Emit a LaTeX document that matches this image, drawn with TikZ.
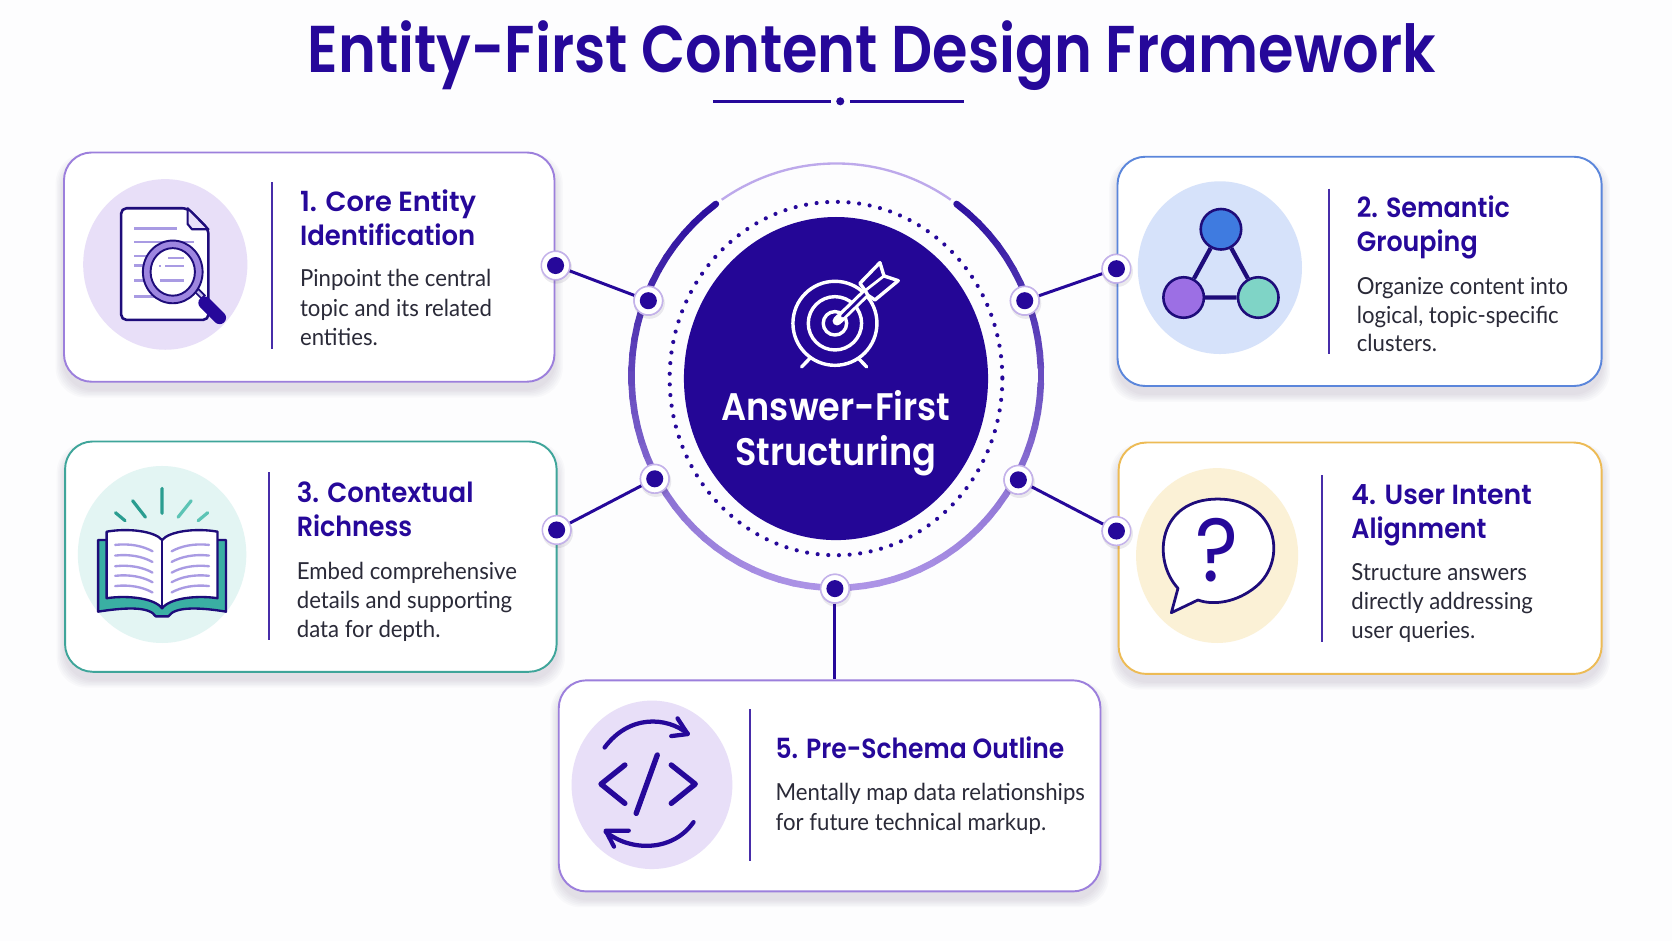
\documentclass[tikz,border=0pt]{standalone}
\usepackage{fontspec}
\setmainfont[FakeStretch=0.945]{Lato}
\newfontfamily\headfont[FakeStretch=0.915,BoldFont={Poppins SemiBold}]{Poppins}
\newfontfamily\titlefont[FakeStretch=0.868,BoldFont={Poppins SemiBold}]{Poppins}
\usetikzlibrary{calc,shapes.geometric}
\definecolor{ink}{HTML}{26089A}
\definecolor{circ}{HTML}{240696}
\definecolor{outl}{HTML}{1E0C7A}
\definecolor{body}{HTML}{2A2A38}
\definecolor{ringL}{HTML}{AD94E6}
\definecolor{ringD}{HTML}{2C0F9E}
\definecolor{cPur}{HTML}{9C7FDC}
\definecolor{cBlu}{HTML}{5B86DB}
\definecolor{cTea}{HTML}{3FA59A}
\definecolor{cAmb}{HTML}{EDBB55}
\definecolor{bPur}{HTML}{E8DFF8}
\definecolor{bBlu}{HTML}{D6E2FA}
\definecolor{bTea}{HTML}{E3F5F3}
\definecolor{bAmb}{HTML}{FBF1D6}
\definecolor{lav}{HTML}{A99BE3}
\definecolor{lensC}{HTML}{9E86E0}
\definecolor{tealD}{HTML}{2A9D90}
\definecolor{tealM}{HTML}{3AAFA3}
\definecolor{tealL}{HTML}{5CC4B5}
\definecolor{nodeB}{HTML}{3F7BE0}
\definecolor{nodeP}{HTML}{9C6FE4}
\definecolor{nodeT}{HTML}{7FD4C6}
\tikzset{
  lw/.style={line width=#1*0.5pt},
  cardbox/.style={rectangle,rounded corners=13pt,draw=#1,lw=1.8,fill=white,inner sep=0pt},
  hub/.style={circle,draw=cPur!60,lw=1.4,fill=white,minimum size=13.4pt,inner sep=0pt},
  hubdot/.style={circle,fill=ink,minimum size=8pt,inner sep=0pt},
  link/.style={draw=ink,lw=2.8},
  divider/.style={draw=ink!85,lw=1.8},
  headtxt/.style={anchor=base west,inner sep=0pt,text=ink,font=\headfont\bfseries\fontsize{13}{15}\selectfont},
  bodytxt/.style={anchor=base west,inner sep=0pt,text=body,font=\fontsize{11}{13}\selectfont},
  centertxt/.style={anchor=base,inner sep=0pt,text=white,font=\headfont\bfseries\fontsize{18}{20}\selectfont},
  iconline/.style={draw=ink,lw=#1,line cap=round,line join=round},
  iconline/.default=4,
}
\newcommand{\softshadow}[4]{%
  \foreach \g in {1,...,6}{%
    \fill[black!55!cPur,opacity=0.022,rounded corners=14pt] (#1-\g*1.3,#2+7-\g*1.0) rectangle (#3+\g*1.3,#4+7+\g*1.3);
  }}
\newcommand{\cardnode}[6]{%
  \pgfmathsetmacro{\cx}{(#2+#4)/2}\pgfmathsetmacro{\cy}{(#3+#5)/2}%
  \pgfmathsetmacro{\cw}{(#4-#2)*0.5}\pgfmathsetmacro{\ch}{(#5-#3)*0.5}%
  \node[cardbox=#6,minimum width=\cw pt,minimum height=\ch pt] (#1) at (\cx,\cy) {};}
\begin{document}
\begin{tikzpicture}[x=0.5pt,y=-0.5pt]
\useasboundingbox (0,0) rectangle (1568,882.5);
\fill[white!98.5!cPur] (0,0) rectangle (1568,882.5);
% title
\node[anchor=base,inner sep=0pt,text=ink,font=\titlefont\bfseries\fontsize{31}{34}\selectfont] (title) at (817.5,68) {Entity-First Content Design Framework};
\coordinate (ua) at (669,95); \coordinate (ub) at (779,95);
\coordinate (uc) at (797,95); \coordinate (ud) at (904,95);
\draw[ink,lw=2.4] (ua)--(ub) (uc)--(ud);
\node[circle,fill=ink,minimum size=3.8pt,inner sep=0pt] (udot) at (788,95) {};
% ring
\foreach \t [remember=\t as \tp (initially 306)] in {310,314,...,594}{
  \pgfmathsetmacro{\mix}{min(100,max(0,(sin(\t)+0.82)/1.82*100))}
  \draw[color=ringL!\mix!ringD,lw=6.2,line cap=round]
    ({784.2+192*cos(\tp)},{352.3+199*sin(\tp)}) -- ({784.2+192*cos(\t)},{352.3+199*sin(\t)});
}
\draw[color=ringL!80!white,lw=2.2] plot[domain=236:304,samples=40,smooth] ({784.2+192*cos(\x)},{352.3+199*sin(\x)});
% dotted ring
\draw[ink,lw=3.9,line cap=round,dash pattern=on 0pt off 5pt] (784,355) ellipse[x radius=156,y radius=165.7];
% centre disc
\node[ellipse,fill=circ,minimum width=142.6pt,minimum height=151.5pt,inner sep=0pt] (core) at (784,355) {};
% target
\begin{scope}[white,lw=3.2,line cap=round,line join=round]
  \draw (783,303.2) circle[radius=39.4];
  \draw (783,303.2) circle[radius=25];
  \draw (783,303.2) circle[radius=11];
  \draw (759.6,336)--(751.8,344);
  \draw (804.9,336)--(812.7,344);
  \draw[lw=8.5] (785,301)--(814,273);
  \draw[circ,lw=2.6] (790,296.5)--(814,273);
  \draw[fill=circ] (806.4,265.7)--(825.2,246.3)--(829,258.8)--(842.4,263.2)--(820.5,281.3)--(814,277)--(811,272)--cycle;
  \draw[lw=2.6] (812,272)--(829,258.8);
\end{scope}
\node[centertxt] (ctr1) at (784,394) {Answer-First};
\node[centertxt] (ctr2) at (784,437) {Structuring};
% connectors
\node[hub] (h1) at (608,282) {}; \node[hub] (h2) at (961,282) {};
\node[hub] (h3) at (614,449) {}; \node[hub] (h4) at (955,450) {};
\node[hub] (h5) at (783,552) {};
\node[hub] (p1) at (521,249) {}; \node[hub] (p2) at (1047,252) {};
\node[hub] (p3) at (522,497) {}; \node[hub] (p4) at (1047,498) {};
\draw[link] (h1)--(p1); \draw[link] (h2)--(p2);
\draw[link] (h3)--(p3); \draw[link] (h4)--(p4);
% cards
\softshadow{60}{143}{520}{358}
\softshadow{1048}{147}{1502}{362}
\softshadow{61}{414}{522}{630}
\softshadow{1049}{415}{1502}{632}
\softshadow{524}{638}{1032}{836}
\cardnode{c1}{60}{143}{520}{358}{cPur}
\cardnode{c2}{1048}{147}{1502}{362}{cBlu}
\cardnode{c3}{61}{414}{522}{630}{cTea}
\cardnode{c4}{1049}{415}{1502}{632}{cAmb}
\cardnode{c5}{524}{638}{1032}{836}{cPur}
\draw[link] (h5)--(h5|-c5.north);
% hubs on top
\foreach \n/\x/\y in {h1/608/282,h2/961/282,h3/614/449,h4/955/450,h5/783/552,p1/521/249,p2/1047/252,p3/522/497,p4/1047/498}{
  \fill[black!60!cPur,opacity=0.10] (\x+1,\y+2.5) circle[radius=14.5];
  \node[hub] (\n o) at (\x,\y) {};
  \node[hubdot] (\n d) at (\x,\y) {};
}
% ---- card 1
\fill[bPur] (155,248) ellipse[x radius=77,y radius=80];
\draw[divider] (255,171)--(255,327);
\draw[draw=outl,fill=white,lw=2.4,line join=round,rounded corners=2.5pt] (113.6,195.3)--(175.9,195.3)--(195.5,215)--(195.5,300)--(113.6,300)--cycle;
\draw[draw=outl,fill=bPur,lw=2,line join=round] (175.9,195.3)--(175.9,210)--(180,215)--(195.5,215)--cycle;
\draw[lav,lw=2.6] (126,214)--(166,214) (126,227)--(182,227) (126,240)--(138,240) (126,249)--(138,249) (126,263)--(140,263) (126,278)--(147,278);
\draw[draw=outl,fill=lav!60!white,lw=1.6] (183,274)--(186,271)--(192,277)--(189,280)--cycle;
\draw[ink,lw=12,line cap=round] (192,284)--(206,298);
\draw[draw=outl,fill=lensC,lw=1.8] (162,255) ellipse[x radius=28,y radius=29.4];
\draw[draw=outl,fill=white,lw=1.8] (162,255) ellipse[x radius=20.8,y radius=22.3];
\draw[lav,lw=2.4] (158,242)--(173,242) (149,249.5)--(151,249.5) (155,249.5)--(173,249.5) (150,263.3)--(173,263.3);
\node[headtxt] (t1a) at (281,198) {\scalebox{1.075}[1]{1. Core Entity}};
\node[headtxt] (t1b) at (281,230) {\scalebox{1.02}[1]{Identification}};
\node[bodytxt] (b1a) at (281,269) {Pinpoint the central};
\node[bodytxt] (b1b) at (281,297) {topic and its related};
\node[bodytxt] (b1c) at (281,324) {entities.};
% ---- card 2
\fill[bBlu] (1144,251) ellipse[x radius=77,y radius=81];
\draw[divider] (1246,177)--(1246,332);
\node[circle,lw=2.4,minimum size=19pt,inner sep=0pt] (g1) at (1145,215) {};
\node[circle,lw=2.4,minimum size=19pt,inner sep=0pt] (g2) at (1110,279) {};
\node[circle,lw=2.4,minimum size=19pt,inner sep=0pt] (g3) at (1180,279) {};
\draw[outl,lw=4] (g1)--(g2) (g2)--(g3) (g3)--(g1);
\node[circle,draw=outl,lw=2.4,fill=nodeB,minimum size=19pt,inner sep=0pt] (g1f) at (1145,215) {};
\node[circle,draw=outl,lw=2.4,fill=nodeP,minimum size=19pt,inner sep=0pt] (g2f) at (1110,279) {};
\node[circle,draw=outl,lw=2.4,fill=nodeT,minimum size=19pt,inner sep=0pt] (g3f) at (1180,279) {};
\node[headtxt] (t2a) at (1272,204) {2. Semantic};
\node[headtxt] (t2b) at (1272,236) {Grouping};
\node[bodytxt] (b2a) at (1272,276) {Organize content into};
\node[bodytxt] (b2b) at (1272,303) {logical, topic-specific};
\node[bodytxt] (b2c) at (1272,330) {clusters.};
% ---- card 3
\fill[bTea] (152,520) ellipse[x radius=79,y radius=83];
\draw[divider] (252,443)--(252,600);
\draw[tealD,lw=3,line cap=round] (152,458)--(152,481.4) (124.4,469.6)--(136.4,485) (108.3,480.8)--(117.3,488.3);
\draw[tealL,lw=3,line cap=round] (179.3,469.6)--(167,485) (194.8,480.8)--(185.8,488.3);
\draw[draw=outl,fill=tealM,lw=2.2,line join=round] (92,506.4)--(92,573.6) .. controls (115,570) and (140,568) .. (146,578) -- (158,578) .. controls (164,568) and (190,570) .. (212,573.6) -- (212,506.4) -- cycle;
\draw[draw=outl,fill=white,lw=2.2,line join=round] (100,498.6) .. controls (120,495) and (145,498) .. (152,506.4) .. controls (159,498) and (184,495) .. (204,498.6) -- (204,561) .. controls (184,558) and (159,561) .. (152,570.5) .. controls (145,561) and (120,558) .. (100,561) -- cycle;
\draw[outl,lw=2.2] (152,506.4)--(152,570.5);
\foreach \yy in {511,521,531,540,549.6}{
  \draw[lav,lw=2.2,line cap=round] (108,\yy) .. controls (122,\yy-1.5) and (134,\yy+1) .. (143,\yy+6);
  \draw[lav,lw=2.2,line cap=round] (196,\yy) .. controls (182,\yy-1.5) and (170,\yy+1) .. (161,\yy+6);
}
\node[headtxt] (t3a) at (278,471) {\scalebox{1.025}[1]{3. Contextual}};
\node[headtxt] (t3b) at (278,503) {Richness};
\node[bodytxt] (b3a) at (278,543) {Embed comprehensive};
\node[bodytxt] (b3b) at (278,571) {details and supporting};
\node[bodytxt] (b3c) at (278,598) {data for depth.};
% ---- card 4
\fill[bAmb] (1141.4,521) ellipse[x radius=76,y radius=82];
\draw[divider] (1240,445.5)--(1240,601.7);
\draw[draw=outl,fill=white,lw=2.6,line join=round] (1104.7,551.7) .. controls (1080,525) and (1086,468) .. (1142,468) .. controls (1198,468) and (1208,525) .. (1178,550) .. controls (1160,565) and (1138,568) .. (1123.4,562.7) -- (1098.5,574.6) -- cycle;
\node[anchor=center,inner sep=0pt,text=ink,font=\headfont\fontsize{42}{44}\selectfont] (qm) at (1141.5,516) {?};
\node[headtxt] (t4a) at (1267,473) {\scalebox{1.056}[1]{4. User Intent}};
\node[headtxt] (t4b) at (1267,505) {Alignment};
\node[bodytxt] (b4a) at (1267,544) {Structure answers};
\node[bodytxt] (b4b) at (1267,572) {directly addressing};
\node[bodytxt] (b4c) at (1267,599) {user queries.};
% ---- card 5
\fill[bPur] (611.4,736) ellipse[x radius=75.4,y radius=79];
\draw[divider] (703.4,665)--(703.4,807);
\draw[iconline=5] (586,717.4)--(563.6,735.3)--(586,753.4);
\draw[iconline=5] (629.5,717.4)--(652,735.3)--(629.5,753.4);
\draw[iconline=5] (616.4,708)--(596.6,762.8);
\draw[iconline=4] (567,701) .. controls (590,670) and (625,672) .. (645,688);
\draw[iconline=4] (635.4,673.7)--(645,688.4)--(629.5,690.3);
\draw[iconline=4] (650.4,771) .. controls (630,800) and (590,798) .. (568,780);
\draw[iconline=4] (575.8,794)--(568,779)--(589.6,779);
\node[headtxt] (t5a) at (727,711) {\scalebox{0.985}[1]{5. Pre-Schema Outline}};
\node[bodytxt] (b5a) at (727,751) {Mentally map data relationships};
\node[bodytxt] (b5b) at (727,779) {for future technical markup.};
\end{tikzpicture}
\end{document}
